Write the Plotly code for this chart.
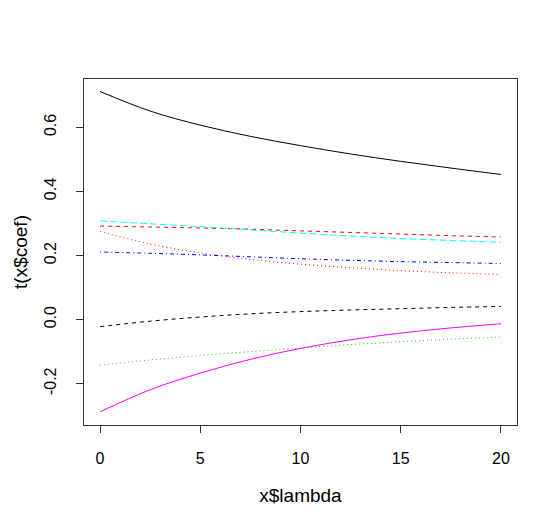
import plotly.graph_objects as go

# ridge trace
lam = [0, 2.5, 5, 7.5, 10, 12.5, 15, 17.5, 20]

coef1 = [0.712, 0.651, 0.607, 0.572, 0.543, 0.517, 0.494, 0.473, 0.453]
coef2 = [0.292, 0.289, 0.286, 0.282, 0.277, 0.272, 0.267, 0.262, 0.258]
coef3 = [-0.142, -0.126, -0.112, -0.100, -0.089, -0.078, -0.069, -0.061, -0.055]
coef4 = [0.211, 0.207, 0.202, 0.196, 0.190, 0.185, 0.181, 0.178, 0.175]
coef5 = [0.308, 0.299, 0.290, 0.280, 0.270, 0.261, 0.253, 0.247, 0.241]
coef6 = [-0.288, -0.219, -0.167, -0.124, -0.090, -0.063, -0.042, -0.026, -0.013]
coef7 = [-0.022, -0.005, 0.008, 0.018, 0.025, 0.030, 0.034, 0.038, 0.041]
coef8 = [0.275, 0.236, 0.208, 0.188, 0.173, 0.162, 0.153, 0.146, 0.141]

series = [coef1, coef2, coef3, coef4, coef5, coef6, coef7, coef8]

# matplot defaults: colours 1:6 and line types 1:5, recycled
colors = ["#000000", "#FF0000", "#00CD00", "#0000FF", "#00FFFF", "#FF00FF"]
dashes = ["solid", "4px,4px", "1px,3px", "1px,3px,4px,3px", "7px,3px"]

fig = go.Figure()
for i, ys in enumerate(series):
    fig.add_trace(go.Scatter(
        x=lam, y=ys, mode="lines", line_shape="spline",
        line=dict(color=colors[i % 6], dash=dashes[i % 5], width=1),
        showlegend=False,
    ))

axis_common = dict(
    showgrid=False, zeroline=False,
    showline=True, mirror=True, linecolor="#333333", linewidth=1,
    ticks="outside", ticklen=7, tickcolor="#333333",
    tickfont=dict(family="Liberation Sans, Arial", size=16, color="black"),
)

# page body adds an 8px offset, so the figure is a bit smaller than the window
fig.update_layout(
    width=549, height=515,
    margin=dict(l=70, r=40, t=71, b=98),
    paper_bgcolor="white", plot_bgcolor="white",
    font=dict(family="Liberation Sans, Arial", size=16, color="black"),
    xaxis=dict(axis_common, range=[-0.8, 20.8], tickvals=[0, 5, 10, 15, 20],
               ticklabelstandoff=12,
               title=dict(text="x$lambda", standoff=22)),
    yaxis=dict(axis_common, range=[-0.329, 0.751],
               tickvals=[-0.2, 0.0, 0.2, 0.4, 0.6], ticktext=["-0.2", "0.0", "0.2", "0.4", "0.6"],
               tickangle=-90, ticklabelstandoff=14,
               title=dict(text="t(x$coef)", standoff=8)),
)

fig.write_html("out.html")
